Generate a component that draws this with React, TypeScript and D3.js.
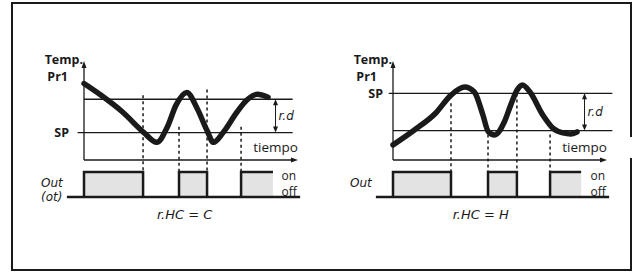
import React from 'react';
import * as d3 from 'd3';

// temperature curves (time 0..100, temperature in arbitrary degrees)
const coolTime = [0, 8, 18, 28, 34, 39, 43, 48, 53, 57.5, 60.5, 65, 71.5, 76, 81, 86];
const coolTemp = [39, 33, 24.5, 14, 9, 17, 28, 34.5, 26, 15, 9, 14, 24.5, 30.5, 33.5, 32];
const heatTime = [0, 10, 20, 27, 33.5, 38, 42, 44.5, 47.5, 52, 55, 58, 60.5, 64, 70, 75, 79.5, 83, 86];
const heatTemp = [7.7, 15.3, 24, 33, 37.2, 34.7, 23, 14.5, 12.8, 19.4, 28, 35.7, 38.3, 34.7, 23, 16, 13.8, 13.3, 14.3];

// switching instants and the top of each dashed guide
const coolSwitch = [27.6, 44.4, 57.5, 73.4];
const coolDashTop = [33, 17, 36, 17];
const heatSwitch = [27.1, 44.4, 57.9, 73.4];
const heatDashTop = [29, 13, 37, 13];

// output "on" intervals (last one stays on)
const coolOn = [[0, 27.6], [44.4, 57.5], [73.4, 88.3]];
const heatOn = [[0, 27.1], [44.4, 57.9], [73.4, 87.9]];

// set point / differential
const coolSP = 14;
const coolRd = 17;
const heatSP = 34;
const heatRd = 19;

const modeLabels = ['r.HC = C', 'r.HC = H'];
const outLabels = [['Out', '(ot)'], ['Out']];

const ink = '#1a1a1a';
const sans = '"Open Sans", "Noto Sans", sans-serif';
const seg = '"DejaVu Sans", sans-serif';

interface PanelProps {
  x0: number;
  time: number[];
  temp: number[];
  sp: number;
  band: number;
  switches: number[];
  dashTop: number[];
  on: number[][];
  lineStart: number;
  lineEnd: number;
  spLabelGap: number;
  outText: string[];
  mode: string;
  modeAt: number;
}

function Panel(p: PanelProps) {
  const x = d3.scaleLinear().domain([0, 100]).range([p.x0, p.x0 + 214]);
  const y = d3.scaleLinear().domain([0, 50]).range([160, 62]);
  const out = d3.scaleLinear().domain([0, 1]).range([197, 172]);

  const pts = p.time.map((t, i) => [t, p.temp[i]] as [number, number]);
  const line = d3.line<[number, number]>()
    .x(d => x(d[0]))
    .y(d => y(d[1]))
    .curve(d3.curveMonotoneX);

  const lo = Math.min(p.sp, p.band);
  const hi = Math.max(p.sp, p.band);
  const rdX = x(89.5);

  return (
    <g>
      {/* reference lines */}
      <line x1={x(p.lineStart)} x2={x(p.lineEnd)} y1={y(p.sp)} y2={y(p.sp)} stroke={ink} strokeWidth={1.3} />
      <line x1={x(0)} x2={x(p.lineEnd)} y1={y(p.band)} y2={y(p.band)} stroke={ink} strokeWidth={1.3} />

      {/* axes */}
      <line x1={x(0)} x2={x(0)} y1={y(0)} y2={y(48)} stroke={ink} strokeWidth={1.3} />
      <path d={`M${x(0)},${y(50) - 1} L${x(0) - 2.5},${y(50) + 6} L${x(0) + 2.5},${y(50) + 6} Z`} fill={ink} />
      <line x1={x(0)} x2={x(97)} y1={y(0)} y2={y(0)} stroke={ink} strokeWidth={1.3} />
      <path d={`M${x(100)},${y(0)} L${x(100) - 7},${y(0) - 2.5} L${x(100) - 7},${y(0) + 2.5} Z`} fill={ink} />

      {/* dashed switching guides */}
      {p.switches.map((t, i) => (
        <line key={i} x1={x(t)} x2={x(t)} y1={y(p.dashTop[i])} y2={out(1)}
          stroke={ink} strokeWidth={1.5} strokeDasharray="3,3" />
      ))}

      {/* differential arrow */}
      <line x1={rdX} x2={rdX} y1={y(hi) + 2} y2={y(lo) - 2} stroke={ink} strokeWidth={1} />
      <path d={`M${rdX},${y(hi)} L${rdX - 2.5},${y(hi) + 6} L${rdX + 2.5},${y(hi) + 6} Z`} fill={ink} />
      <path d={`M${rdX},${y(lo)} L${rdX - 2.5},${y(lo) - 6} L${rdX + 2.5},${y(lo) - 6} Z`} fill={ink} />
      <text x={rdX + 3} y={(y(hi) + y(lo)) / 2 + 4} fontFamily={seg} fontStyle="italic" fontSize={12} fill={ink}>r.d</text>

      {/* temperature curve */}
      <path d={line(pts) || ''} fill="none" stroke={ink} strokeWidth={5.5} strokeLinecap="round" strokeLinejoin="round" />

      {/* output pulses */}
      {p.on.map(([a, b], i) => {
        const last = i === p.on.length - 1;
        const path = d3.path();
        path.moveTo(x(a), out(0));
        path.lineTo(x(a), out(1));
        path.lineTo(x(b), out(1));
        if (!last) path.lineTo(x(b), out(0));
        return (
          <g key={i}>
            <rect x={x(a)} y={out(1)} width={x(b) - x(a)} height={out(0) - out(1)} fill="#e3e3e3" />
            <path d={path.toString()} fill="none" stroke={ink} strokeWidth={2.5} />
          </g>
        );
      })}
      <line x1={x(-8)} x2={x(101)} y1={out(0)} y2={out(0)} stroke={ink} strokeWidth={2.5} />

      {/* labels */}
      <text x={x(0) - 1} y={64} textAnchor="end" fontFamily={sans} fontWeight="bold" fontSize={12.5} fill={ink}>Temp.</text>
      <text x={x(0) - 16} y={81} textAnchor="end" fontFamily={sans} fontWeight="bold" fontSize={12.5} fill={ink}>Pr1</text>
      <text x={x(0) - p.spLabelGap} y={y(p.sp) + 4.5} textAnchor="end" fontFamily={sans} fontWeight="bold" fontSize={12.5} fill={ink}>SP</text>
      <text x={x(100)} y={152} textAnchor="end" fontFamily={sans} fontSize={13.5} fill={ink}>tiempo</text>
      <text x={x(92.3)} y={180} fontFamily={sans} fontSize={12} fill={ink}>on</text>
      <text x={x(92.3)} y={196} fontFamily={sans} fontSize={12} fill={ink}>off</text>
      {p.outText.map((s, i) => (
        <text key={s} x={x(0) - 43} y={187 + i * 14} fontFamily={seg} fontStyle="italic" fontSize={12} fill={ink}>{s}</text>
      ))}
      <text x={x(p.modeAt)} y={219} textAnchor="middle" fontFamily={seg} fontStyle="italic" fontSize={13} fill={ink}>{p.mode}</text>
    </g>
  );
}

export default function App() {
  return (
    <svg width={636} height={272} style={{ position: 'absolute', left: 0, top: 0, background: '#fff' }}>
      <path d="M631,137 V3 H12 V270 H631 V158" fill="none" stroke={ink} strokeWidth={2} />
      <Panel x0={84} time={coolTime} temp={coolTemp} sp={coolSP} band={coolSP + coolRd}
        switches={coolSwitch} dashTop={coolDashTop} on={coolOn}
        lineStart={-3} lineEnd={97.5} spLabelGap={15} outText={outLabels[0]} mode={modeLabels[0]} modeAt={47} />
      <Panel x0={393} time={heatTime} temp={heatTemp} sp={heatSP} band={heatSP - heatRd}
        switches={heatSwitch} dashTop={heatDashTop} on={heatOn}
        lineStart={-2} lineEnd={102.5} spLabelGap={10} outText={outLabels[1]} mode={modeLabels[1]} modeAt={41} />
    </svg>
  );
}
